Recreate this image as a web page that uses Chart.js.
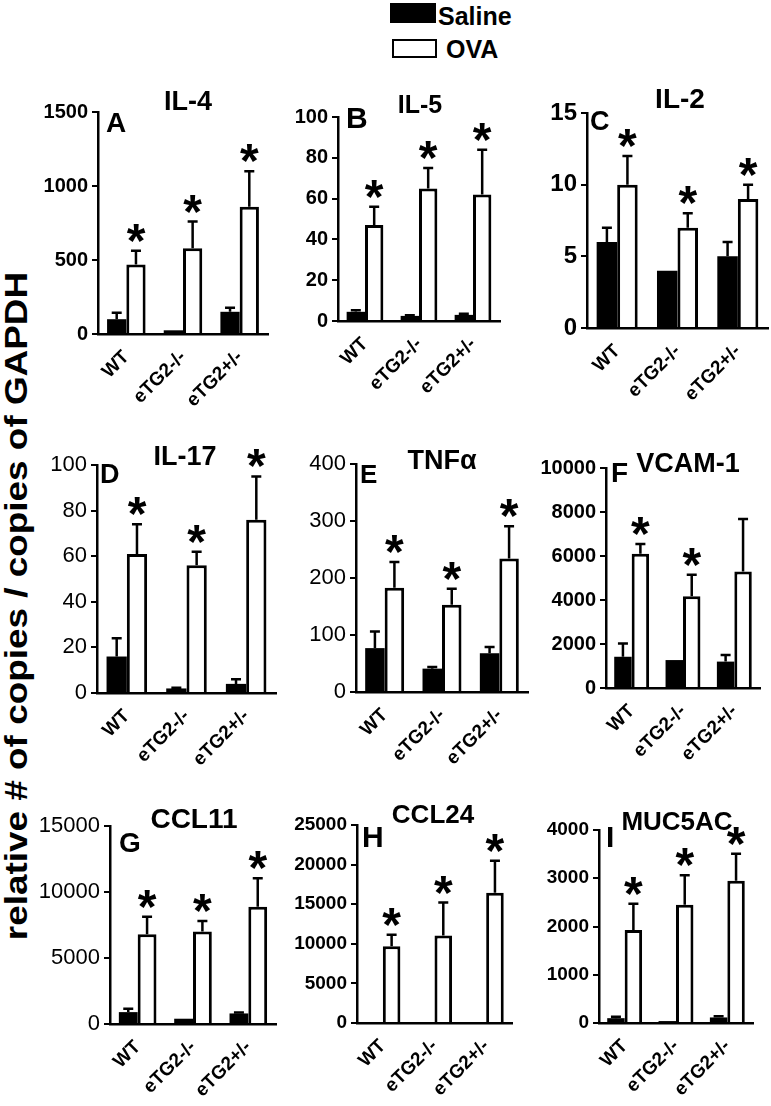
<!DOCTYPE html>
<html>
<head>
<meta charset="utf-8">
<script src="https://cdn.jsdelivr.net/npm/chart.js@4"></script>
<style>
  html, body { margin: 0; padding: 0; background: #fff; }
  #page { position: relative; width: 771px; height: 1106px; overflow: hidden; font-family: Arial, 'Liberation Sans', sans-serif; color: #000; }
  .panel { position: absolute; }
  .key { position: absolute; font-weight: bold; font-size: 25px; line-height: 25px; white-space: nowrap; }
  #ylab {
    position: absolute; left: 16px; top: 606px;
    font-weight: bold; font-size: 31px; line-height: 31px; white-space: nowrap;
    transform: translate(-50%, -50%) rotate(-90deg) scaleX(1.19);
  }
</style>
</head>
<body>
<div id="page">
  <div style="position:absolute; left:390px; top:3px; width:46px; height:20px; background:#000"></div>
  <div class="key" style="left:438px; top:4px">Saline</div>
  <div style="position:absolute; left:392px; top:39px; width:45px; height:19px; border:2px solid #000; box-sizing:border-box"></div>
  <div class="key" style="left:446px; top:37px">OVA</div>
  <div id="ylab">relative # of copies / copies of GAPDH</div>
</div>
<script>
const groups = ['WT', 'eTG2-/-', 'eTG2+/-'];

// IL-4
const il4Saline = [100, 25, 150];
const il4SalineErr = [44, 0, 28];
const il4Ova = [470, 580, 860];
const il4OvaErr = [92, 180, 240];
const il4Stars = [true, true, true];

// IL-5
const il5Saline = [4.5, 2.5, 3];
const il5SalineErr = [0.8, 0.3, 0.5];
const il5Ova = [47, 65, 62];
const il5OvaErr = [9, 10, 22];
const il5Stars = [true, true, true];

// IL-2
const il2Saline = [6, 4, 5];
const il2SalineErr = [1, 0, 1];
const il2Ova = [10, 7, 9];
const il2OvaErr = [2, 1, 1];
const il2Stars = [true, true, true];

// IL-17
const il17Saline = [16, 2, 4];
const il17SalineErr = [8, 0.3, 2];
const il17Ova = [61, 56, 76];
const il17OvaErr = [13, 6, 19];
const il17Stars = [true, true, true];

// TNFa
const tnfSaline = [77, 41, 68];
const tnfSalineErr = [29, 3, 11];
const tnfOva = [183, 153, 234];
const tnfOvaErr = [45, 28, 57];
const tnfStars = [true, true, true];

// VCAM-1
const vcamSaline = [1420, 1270, 1200];
const vcamSalineErr = [600, 0, 300];
const vcamOva = [6100, 4170, 5300];
const vcamOvaErr = [450, 980, 2380];
const vcamStars = [true, true, false];

// CCL11
const ccl11Saline = [900, 400, 800];
const ccl11SalineErr = [250, 0, 80];
const ccl11Ova = [6790, 7000, 8890];
const ccl11OvaErr = [1340, 800, 2150];
const ccl11Stars = [true, true, true];

// CCL24
const ccl24Saline = [60, 40, 60];
const ccl24SalineErr = [0, 0, 0];
const ccl24Ova = [9700, 11050, 16430];
const ccl24OvaErr = [1450, 4150, 4050];
const ccl24Stars = [true, true, true];

// MUC5AC
const muc5acSaline = [100, 40, 115];
const muc5acSalineErr = [30, 0, 25];
const muc5acOva = [1930, 2450, 2950];
const muc5acOvaErr = [540, 610, 560];
const muc5acStars = [true, true, true];

const FONT = "Arial, 'Liberation Sans', sans-serif";
const YW = 75, TOP = 60, XH = 95, RP = 20;

// x0 / x1: axis left / right, top: pixel of the max tick, bottom: pixel of zero
const panels = [
  { letter: 'A', title: 'IL-4', saline: il4Saline, salineErr: il4SalineErr, ova: il4Ova, ovaErr: il4OvaErr, stars: il4Stars,
    max: 1500, step: 500, x0: 98, x1: 268, top: 112, bottom: 334, tickWeight: 'bold', tickSize: 20,
    letterSize: 28, letterDx: 8, letterDy: 20, titleSize: 27, titleDx: 90, titleDy: -2 },
  { letter: 'B', title: 'IL-5', saline: il5Saline, salineErr: il5SalineErr, ova: il5Ova, ovaErr: il5OvaErr, stars: il5Stars,
    max: 100, step: 20, x0: 338, x1: 500, top: 117, bottom: 321, tickWeight: 'bold', tickSize: 20,
    letterSize: 30, letterDx: 8, letterDy: 11, titleSize: 25, titleDx: 82, titleDy: -4 },
  { letter: 'C', title: 'IL-2', saline: il2Saline, salineErr: il2SalineErr, ova: il2Ova, ovaErr: il2OvaErr, stars: il2Stars,
    max: 15, step: 5, x0: 587, x1: 768, top: 113, bottom: 328, tickWeight: 'bold', tickSize: 24,
    letterSize: 27, letterDx: 3, letterDy: 17, titleSize: 28, titleDx: 93, titleDy: -5 },
  { letter: 'D', title: 'IL-17', saline: il17Saline, salineErr: il17SalineErr, ova: il17Ova, ovaErr: il17OvaErr, stars: il17Stars,
    max: 100, step: 20, x0: 97, x1: 276, top: 465, bottom: 693, tickWeight: 'normal', tickSize: 22,
    letterSize: 27, letterDx: 3, letterDy: 18, titleSize: 27, titleDx: 88, titleDy: 0 },
  { letter: 'E', title: 'TNF\u03B1', saline: tnfSaline, salineErr: tnfSalineErr, ova: tnfOva, ovaErr: tnfOvaErr, stars: tnfStars,
    max: 400, step: 100, x0: 356, x1: 528, top: 464, bottom: 692, tickWeight: 'normal', tickSize: 22,
    letterSize: 26, letterDx: 4, letterDy: 19, titleSize: 27, titleDx: 86, titleDy: 5 },
  { letter: 'F', title: 'VCAM-1', saline: vcamSaline, salineErr: vcamSalineErr, ova: vcamOva, ovaErr: vcamOvaErr, stars: vcamStars,
    max: 10000, step: 2000, x0: 606, x1: 760, top: 468, bottom: 688, tickWeight: 'bold', tickSize: 20,
    letterSize: 28, letterDx: 5, letterDy: 14, titleSize: 27, titleDx: 82, titleDy: 4 },
  { letter: 'G', title: 'CCL11', saline: ccl11Saline, salineErr: ccl11SalineErr, ova: ccl11Ova, ovaErr: ccl11OvaErr, stars: ccl11Stars,
    max: 15000, step: 5000, x0: 110, x1: 276, top: 826, bottom: 1024, tickWeight: 'normal', tickSize: 22,
    letterSize: 28, letterDx: 9, letterDy: 26, titleSize: 28, titleDx: 84, titleDy: 2 },
  { letter: 'H', title: 'CCL24', saline: ccl24Saline, salineErr: ccl24SalineErr, ova: ccl24Ova, ovaErr: ccl24OvaErr, stars: ccl24Stars,
    max: 25000, step: 5000, x0: 357, x1: 512, top: 825, bottom: 1023, tickWeight: 'bold', tickSize: 19,
    letterSize: 30, letterDx: 5, letterDy: 22, titleSize: 26, titleDx: 76, titleDy: -2 },
  { letter: 'I', title: 'MUC5AC', saline: muc5acSaline, salineErr: muc5acSalineErr, ova: muc5acOva, ovaErr: muc5acOvaErr, stars: muc5acStars,
    max: 4000, step: 1000, x0: 599, x1: 753, top: 830, bottom: 1023, tickWeight: 'bold', tickSize: 19,
    letterSize: 30, letterDx: 7, letterDy: 17, titleSize: 26, titleDx: 78, titleDy: 0 },
];

// one-sided error bars plus the significance stars over the OVA bars
const errorBars = {
  id: 'errorBars',
  afterDatasetsDraw(chart) {
    const { ctx } = chart;
    const y = chart.scales.y;
    ctx.save();
    ctx.strokeStyle = '#000';
    ctx.fillStyle = '#000';
    ctx.lineWidth = 2.5;
    chart.data.datasets.forEach((ds, i) => {
      chart.getDatasetMeta(i).data.forEach((bar, j) => {
        const err = ds.errors[j];
        const yTop = y.getPixelForValue(ds.data[j] + err);
        if (err > 0) {
          ctx.beginPath();
          ctx.moveTo(bar.x, bar.y);
          ctx.lineTo(bar.x, yTop);
          ctx.moveTo(bar.x - 5, yTop);
          ctx.lineTo(bar.x + 5, yTop);
          ctx.stroke();
        }
        if (ds.stars && ds.stars[j]) {
          ctx.font = 'bold 48px ' + FONT;
          ctx.textAlign = 'center';
          ctx.textBaseline = 'alphabetic';
          const m = ctx.measureText('*');
          const cy = yTop - 18;
          ctx.fillText('*', bar.x, cy - (m.actualBoundingBoxDescent - m.actualBoundingBoxAscent) / 2);
        }
      });
    });
    ctx.restore();
  }
};

function panelText(p) {
  return {
    id: 'panelText',
    afterDraw(chart) {
      const { ctx, chartArea } = chart;
      ctx.save();
      ctx.fillStyle = '#000';
      ctx.textBaseline = 'alphabetic';
      ctx.textAlign = 'left';
      ctx.font = 'bold ' + p.letterSize + 'px ' + FONT;
      ctx.fillText(p.letter, chartArea.left + p.letterDx, chartArea.top + p.letterDy);
      ctx.textAlign = 'center';
      ctx.font = 'bold ' + p.titleSize + 'px ' + FONT;
      ctx.fillText(p.title, chartArea.left + p.titleDx, chartArea.top + p.titleDy);
      ctx.restore();
    }
  };
}

const page = document.getElementById('page');

panels.forEach((p) => {
  const w = YW + (p.x1 - p.x0) + RP;
  const h = TOP + (p.bottom - p.top) + XH;
  const wrap = document.createElement('div');
  wrap.className = 'panel';
  wrap.style.left = (p.x0 - YW) + 'px';
  wrap.style.top = (p.top - TOP) + 'px';
  wrap.style.width = w + 'px';
  wrap.style.height = h + 'px';
  const canvas = document.createElement('canvas');
  canvas.width = w;
  canvas.height = h;
  canvas.style.width = w + 'px';
  canvas.style.height = h + 'px';
  wrap.appendChild(canvas);
  page.appendChild(wrap);

  new Chart(canvas.getContext('2d'), {
    type: 'bar',
    data: {
      labels: groups,
      datasets: [
        { label: 'Saline', data: p.saline, errors: p.salineErr, backgroundColor: '#000', borderColor: '#000', borderWidth: 0 },
        { label: 'OVA', data: p.ova, errors: p.ovaErr, stars: p.stars, backgroundColor: '#fff', borderColor: '#000', borderWidth: 3 },
      ],
    },
    options: {
      responsive: false,
      animation: false,
      devicePixelRatio: 1,
      layout: { padding: { top: TOP, right: RP, left: 0, bottom: 0 } },
      datasets: { bar: { categoryPercentage: 0.68, barPercentage: 1 } },
      plugins: { legend: { display: false }, tooltip: { enabled: false } },
      scales: {
        x: {
          grid: { display: false },
          border: { display: true, color: '#000', width: 2.5 },
          ticks: {
            color: '#000', padding: 4, minRotation: 45, maxRotation: 45,
            font: { family: FONT, size: 19, weight: 'bold' },
          },
          afterFit(scale) { scale.height = XH; },
        },
        y: {
          min: 0,
          max: p.max,
          grid: { display: true, drawOnChartArea: false, drawTicks: true, tickLength: 6, color: '#000', lineWidth: 2 },
          border: { display: true, color: '#000', width: 2.5 },
          ticks: {
            stepSize: p.step, color: '#000', padding: 4,
            font: { family: FONT, size: p.tickSize, weight: p.tickWeight },
            callback: (v) => String(v),
          },
          afterFit(scale) { scale.width = YW; },
        },
      },
    },
    plugins: [errorBars, panelText(p)],
  });
});
</script>
</body>
</html>
